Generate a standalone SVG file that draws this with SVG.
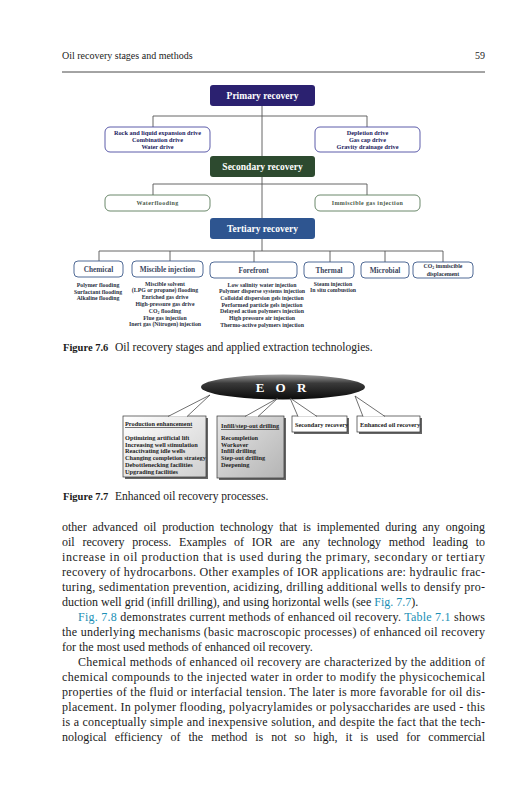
<svg xmlns="http://www.w3.org/2000/svg" width="531" height="800" viewBox="0 0 531 800">
<defs>
<style>
.body{font-family:"Liberation Serif",serif;font-size:12px;fill:#1a1a1a}
.link{fill:#1b8fb5}
.hdr{font-family:"Liberation Serif",serif;font-size:10px;fill:#222}
.cap{font-family:"Liberation Serif",serif;font-size:11.5px;fill:#1a1a1a}
.capb{font-family:"Liberation Serif",serif;font-size:10.5px;font-weight:bold;fill:#1a1a1a}
.ttl{font-family:"Liberation Serif",serif;font-weight:bold;font-size:9.5px;fill:#fff;text-anchor:middle}
.p1{font-family:"Liberation Serif",serif;font-weight:bold;font-size:6.3px;fill:#22225e;text-anchor:middle}
.p2{font-family:"Liberation Serif",serif;font-weight:bold;font-size:6px;fill:#4a5a4a;text-anchor:middle;letter-spacing:0.4px}
.t3{font-family:"Liberation Serif",serif;font-weight:bold;font-size:7.3px;fill:#3a4660;text-anchor:middle}
.lst{font-family:"Liberation Serif",serif;font-weight:bold;font-size:5.8px;fill:#2a3042;text-anchor:middle}
.conn{stroke:#555;stroke-width:0.9;fill:none}
.bx1{fill:#fff;stroke:#4a4aa0;stroke-width:0.9}
.bx2{fill:#fff;stroke:#5a7a5a;stroke-width:0.9}
.bx3{fill:#fff;stroke:#3d5a8a;stroke-width:0.9}
.e7{font-family:"Liberation Serif",serif;font-weight:bold;font-size:6.3px;fill:#222}
.cb{stroke:#333;stroke-width:0.7}
.tail{fill:#fff;stroke:#333;stroke-width:0.7}
.shd{fill:#666}
</style>
<linearGradient id="gEor" x1="0" y1="0" x2="0" y2="1">
<stop offset="0" stop-color="#a0a0a0"/>
<stop offset="0.35" stop-color="#3a3a3a"/>
<stop offset="1" stop-color="#0a0a0a"/>
</linearGradient>
<linearGradient id="gProd" x1="0" y1="0" x2="1" y2="1">
<stop offset="0" stop-color="#ffffff"/>
<stop offset="1" stop-color="#cfcfcf"/>
</linearGradient>
<linearGradient id="gInf" x1="0" y1="0" x2="1" y2="1">
<stop offset="0" stop-color="#e6e6e6"/>
<stop offset="1" stop-color="#b4b4b4"/>
</linearGradient>
</defs>
<rect width="531" height="800" fill="#fff"/>

<!-- header -->
<g id="header">
<text class="hdr" x="62" y="59">Oil recovery stages and methods</text>
<text class="hdr" x="485" y="59" text-anchor="end">59</text>
<line x1="62" y1="72" x2="485" y2="72" stroke="#333" stroke-width="0.9"/>
</g>

<!-- Figure 7.6 connectors -->
<g id="connectors76">
<path class="conn" d="M262,106 V156 M153,127 V116 H367 V127"/>
<path class="conn" d="M262,177 V218 M153,195 V184 H367 V195"/>
<path class="conn" d="M262,239 V251 M99,261 V251 H443 V262 M170,251 V261 M254,251 V262 M330,251 V262 M385,251 V262"/>
</g>

<g id="primary">
<rect x="210" y="85" width="105" height="21" rx="3" fill="#2b2170"/>
<text class="ttl" x="262.5" y="99">Primary recovery</text>
</g>
<g id="primary-left">
<rect class="bx1" x="105" y="127" width="105" height="25" rx="5"/>
<text class="p1" x="157.5" y="135">Rock and liquid expansion drive</text>
<text class="p1" x="157.5" y="142">Combination drive</text>
<text class="p1" x="157.5" y="149">Water drive</text>
</g>
<g id="primary-right">
<rect class="bx1" x="315" y="127" width="105" height="25" rx="5"/>
<text class="p1" x="367.5" y="135">Depletion drive</text>
<text class="p1" x="367.5" y="142">Gas cap drive</text>
<text class="p1" x="367.5" y="149">Gravity drainage drive</text>
</g>

<g id="secondary">
<rect x="210" y="156" width="105" height="21" rx="3" fill="#2d4a2f"/>
<text class="ttl" x="262.5" y="170">Secondary recovery</text>
</g>
<g id="secondary-left">
<rect class="bx2" x="105" y="195" width="105" height="16" rx="5"/>
<text class="p2" x="157.5" y="205">Waterflooding</text>
</g>
<g id="secondary-right">
<rect class="bx2" x="315" y="195" width="105" height="16" rx="5"/>
<text class="p2" x="367.5" y="205">Immiscible gas injection</text>
</g>

<g id="tertiary">
<rect x="210" y="218" width="105" height="21" rx="3" fill="#2e5590"/>
<text class="ttl" x="262.5" y="232">Tertiary recovery</text>
</g>

<g id="chemical">
<rect class="bx3" x="74" y="261" width="49" height="16" rx="4"/>
<text class="t3" x="98.5" y="271.5">Chemical</text>
<text class="lst" x="98" y="287">Polymer flooding</text>
<text class="lst" x="98" y="293.5">Surfactant flooding</text>
<text class="lst" x="98" y="300">Alkaline flooding</text>
</g>
<g id="miscible">
<rect class="bx3" x="132" y="261" width="71" height="16" rx="4"/>
<text class="t3" x="167.5" y="271.5">Miscible injection</text>
<text class="lst" x="165" y="285.5">Miscible solvent</text>
<text class="lst" x="165" y="292.3">(LPG or propane) flooding</text>
<text class="lst" x="165" y="299.1">Enriched gas drive</text>
<text class="lst" x="165" y="305.9">High-pressure gas drive</text>
<text class="lst" x="165" y="312.7">CO<tspan font-size="4" dy="1">2</tspan><tspan dy="-1"> flooding</tspan></text>
<text class="lst" x="165" y="319.5">Flue gas injection</text>
<text class="lst" x="165" y="326.3">Inert gas (Nitrogen) injection</text>
</g>
<g id="forefront">
<rect class="bx3" x="210" y="262" width="87" height="16" rx="4"/>
<text class="t3" x="253.5" y="273" font-size="9">Forefront</text>
<text class="lst" x="262" y="286.5">Low salinity water injection</text>
<text class="lst" x="262" y="293.2">Polymer disperse systems injection</text>
<text class="lst" x="262" y="299.9">Colloidal dispersion gels injection</text>
<text class="lst" x="262" y="306.6">Performed particle gels injection</text>
<text class="lst" x="262" y="313.3">Delayed action polymers injection</text>
<text class="lst" x="262" y="320">High pressure air injection</text>
<text class="lst" x="262" y="326.7">Thermo-active polymers injection</text>
</g>
<g id="thermal">
<rect class="bx3" x="304" y="262" width="50" height="16" rx="4"/>
<text class="t3" x="329" y="272.5">Thermal</text>
<text class="lst" x="333" y="286">Steam injection</text>
<text class="lst" x="333" y="292.3">In situ combustion</text>
</g>
<g id="microbial">
<rect class="bx3" x="361" y="262" width="48" height="16" rx="4"/>
<text class="t3" x="385" y="272.5">Microbial</text>
</g>
<g id="co2">
<rect class="bx3" x="413" y="262" width="60" height="16" rx="4"/>
<text class="lst" x="443" y="268">CO<tspan font-size="4" dy="1">2</tspan><tspan dy="-1"> immiscible</tspan></text>
<text class="lst" x="443" y="275.5">displacement</text>
</g>

<g id="caption76">
<text class="capb" x="63" y="351">Figure 7.6</text>
<text class="cap" x="115" y="351">Oil recovery stages and applied extraction technologies.</text>
</g>

<!-- Figure 7.7 -->
<g id="eor">
<ellipse cx="283" cy="387" rx="82" ry="12.5" fill="url(#gEor)"/>
<text x="283" y="392" font-family="Liberation Serif, serif" font-weight="bold" font-size="13" fill="#fff" text-anchor="middle" letter-spacing="4">E O R</text>
</g>

<g id="production">
<rect class="shd" x="125" y="418" width="83" height="61"/>
<rect class="cb" x="123" y="416" width="83" height="61" fill="url(#gProd)"/>
<text class="e7" x="125" y="426" text-decoration="underline">Production enhancement</text>
<text class="e7" x="125" y="440">Optimizing artificial lift</text>
<text class="e7" x="125" y="446.7">Increasing well stimulation</text>
<text class="e7" x="125" y="453.4">Reactivating idle wells</text>
<text class="e7" x="125" y="460.1">Changing completion strategy</text>
<text class="e7" x="125" y="467">Debottlenecking facilities</text>
<text class="e7" x="125" y="474">Upgrading facilities</text>
</g>
<g id="infill">
<rect class="shd" x="219" y="418" width="67" height="62"/>
<rect class="cb" x="217" y="416" width="67" height="62" fill="url(#gInf)"/>
<text class="e7" x="221" y="428" text-decoration="underline">Infill/step-out drilling</text>
<text class="e7" x="221" y="440">Recompletion</text>
<text class="e7" x="221" y="446.7">Workover</text>
<text class="e7" x="221" y="453.4">Infill drilling</text>
<text class="e7" x="221" y="460.1">Step-out drilling</text>
<text class="e7" x="221" y="467">Deepening</text>
</g>
<g id="secondary-eor">
<rect class="shd" x="294" y="418" width="55" height="16"/>
<rect class="cb" x="292" y="416" width="55" height="16" fill="#fff"/>
<text class="e7" x="295" y="427">Secondary recovery</text>
</g>
<g id="enhanced">
<rect class="shd" x="359" y="418" width="63" height="16"/>
<rect class="cb" x="357" y="416" width="63" height="16" fill="#fff"/>
<text class="e7" x="360" y="427">Enhanced oil recovery</text>
</g>

<g id="connectors77">
<polyline class="tail" points="168,416.5 210,395 187,416.5"/>
<polyline class="tail" points="245,416.5 278,398 258,416.5"/>
<polyline class="tail" points="298,416.5 290,398 317,416.5"/>
<polyline class="tail" points="363,416.5 355,396 385,416.5"/>
</g>

<g id="caption77">
<text class="capb" x="63" y="500">Figure 7.7</text>
<text class="cap" x="115" y="500">Enhanced oil recovery processes.</text>
</g>

<!-- body text -->
<g id="bodytext">
<text class="body" x="62" y="531" textLength="423" lengthAdjust="spacing" word-spacing="2.8">other advanced oil production technology that is implemented during any ongoing</text>
<text class="body" x="62" y="546" textLength="423" lengthAdjust="spacing" word-spacing="4.7">oil recovery process. Examples of IOR are any technology method leading to</text>
<text class="body" x="62" y="561" textLength="423" lengthAdjust="spacing">increase in oil production that is used during the primary, secondary or tertiary</text>
<text class="body" x="62" y="576" textLength="423" lengthAdjust="spacing">recovery of hydrocarbons. Other examples of IOR applications are: hydraulic frac-</text>
<text class="body" x="62" y="591" textLength="423" lengthAdjust="spacing">turing, sedimentation prevention, acidizing, drilling additional wells to densify pro-</text>
<text class="body" x="62" y="606">duction well grid (infill drilling), and using horizontal wells (see <tspan class="link">Fig. 7.7</tspan>).</text>
<text class="body" x="78" y="621" textLength="407" lengthAdjust="spacing"><tspan class="link">Fig. 7.8</tspan> demonstrates current methods of enhanced oil recovery. <tspan class="link">Table 7.1</tspan> shows</text>
<text class="body" x="62" y="636" textLength="423" lengthAdjust="spacing">the underlying mechanisms (basic macroscopic processes) of enhanced oil recovery</text>
<text class="body" x="62" y="651">for the most used methods of enhanced oil recovery.</text>
<text class="body" x="78" y="666" textLength="407" lengthAdjust="spacing">Chemical methods of enhanced oil recovery are characterized by the addition of</text>
<text class="body" x="62" y="681" textLength="423" lengthAdjust="spacing">chemical compounds to the injected water in order to modify the physicochemical</text>
<text class="body" x="62" y="696" textLength="423" lengthAdjust="spacing">properties of the fluid or interfacial tension. The later is more favorable for oil dis-</text>
<text class="body" x="62" y="711" textLength="423" lengthAdjust="spacing">placement. In polymer flooding, polyacrylamides or polysaccharides are used - this</text>
<text class="body" x="62" y="726" textLength="423" lengthAdjust="spacing">is a conceptually simple and inexpensive solution, and despite the fact that the tech-</text>
<text class="body" x="62" y="741" textLength="423" lengthAdjust="spacing" word-spacing="5">nological efficiency of the method is not so high, it is used for commercial</text>
</g>
</svg>
